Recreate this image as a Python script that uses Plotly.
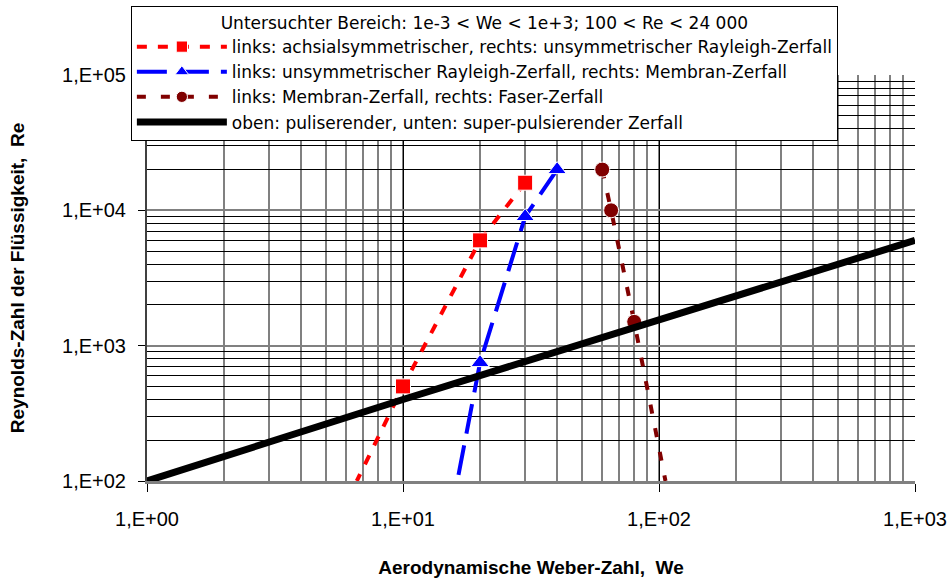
import plotly.graph_objects as go

# Data (We = Weber number, Re = Reynolds number)
red_we = [30, 20, 10, 6.6]
red_re = [16000, 6000, 500, 100]
red_ms = [15, 15, 15, 0]

blue_we = [40, 30, 20, 16.3]
blue_re = [20000, 9000, 750, 100]
blue_ms = [16, 16, 16, 0]

dred_we = [60, 65, 80, 106]
dred_re = [20000, 10000, 1500, 100]
dred_ms = [15, 15, 15, 0]

black_we = [1, 10, 100, 1000]
black_re = [100, 400, 1550, 6000]

x_tickvals = [1, 10, 100, 1000]
x_ticktext = ["1,E+00", "1,E+01", "1,E+02", "1,E+03"]
y_tickvals = [100, 1000, 10000, 100000]
y_ticktext = ["1,E+02", "1,E+03", "1,E+04", "1,E+05"]

names = [
    "links: achsialsymmetrischer, rechts: unsymmetrischer Rayleigh-Zerfall",
    "links: unsymmetrischer Rayleigh-Zerfall, rechts: Membran-Zerfall",
    "links: Membran-Zerfall, rechts: Faser-Zerfall",
    "oben: puliserender, unten: super-pulsierender Zerfall",
]
legend_title = "Untersuchter Bereich: 1e-3 < We < 1e+3; 100 < Re < 24 000"

FONT = "Liberation Sans, Arial, sans-serif"
LFONT = "DejaVu Sans, Liberation Sans, sans-serif"

fig = go.Figure()
fig.add_trace(go.Scatter(
    x=red_we, y=red_re, mode="lines+markers", name=names[0],
    line=dict(color="#FF0000", width=4, dash="10px,11px"),
    marker=dict(symbol="square", size=red_ms, color="#FF0000", opacity=1),
))
fig.add_trace(go.Scatter(
    x=blue_we, y=blue_re, mode="lines+markers", name=names[1],
    line=dict(color="#0000FF", width=4, dash="30px,12px"),
    marker=dict(symbol="triangle-up", size=blue_ms, color="#0000FF", opacity=1),
))
fig.add_trace(go.Scatter(
    x=dred_we, y=dred_re, mode="lines+markers", name=names[2],
    line=dict(color="#800000", width=4, dash="9px,15px"),
    marker=dict(symbol="circle", size=dred_ms, color="#800000", opacity=1),
))
fig.add_trace(go.Scatter(
    x=black_we, y=black_re, mode="lines", name=names[3],
    line=dict(color="#000000", width=7),
))

fig.update_layout(
    width=952, height=581,
    margin=dict(l=147, r=37, t=75, b=100, autoexpand=False),
    paper_bgcolor="white", plot_bgcolor="white",
    font=dict(family=FONT, size=19, color="black"),
    showlegend=True,
    legend=dict(
        x=-0.021, y=1.17, xanchor="left", yanchor="top",
        bgcolor="white", bordercolor="black", borderwidth=1,
        font=dict(family=LFONT, size=17, color="black"),
        title=dict(text=legend_title, side="top center",
                   font=dict(family=LFONT, size=17, color="black")),
        itemwidth=90, tracegroupgap=0,
    ),
    xaxis=dict(
        type="log", range=[0, 3], automargin=False,
        tickvals=x_tickvals, ticktext=x_ticktext,
        ticks="outside", ticklen=8, tickcolor="black",
        ticklabelstandoff=10,
        showline=True, linecolor="#808080", linewidth=3,
        showgrid=True, gridcolor="black", gridwidth=1,
        minor=dict(showgrid=True, gridcolor="#808080", gridwidth=1.5,
                   dtick="D1", ticks=""),
        zeroline=False, mirror=False,
        title=dict(text="<b>Aerodynamische Weber-Zahl,  We</b>",
                   font=dict(family=FONT, size=19), standoff=32),
        tickfont=dict(family=FONT, size=20),
    ),
    yaxis=dict(
        type="log", range=[2, 5], automargin=False,
        tickvals=y_tickvals, ticktext=y_ticktext,
        ticks="outside", ticklen=7, tickcolor="black",
        ticklabelstandoff=8,
        showline=True, linecolor="#404040", linewidth=2,
        showgrid=True, gridcolor="#808080", gridwidth=2,
        minor=dict(showgrid=True, gridcolor="black", gridwidth=1,
                   dtick="D1", ticks=""),
        zeroline=False,
        title=dict(text="<b>Reynolds-Zahl der Flüssigkeit,  Re</b>",
                   font=dict(family=FONT, size=19), standoff=32),
        tickfont=dict(family=FONT, size=20),
    ),
)

fig.write_html("out.html")
